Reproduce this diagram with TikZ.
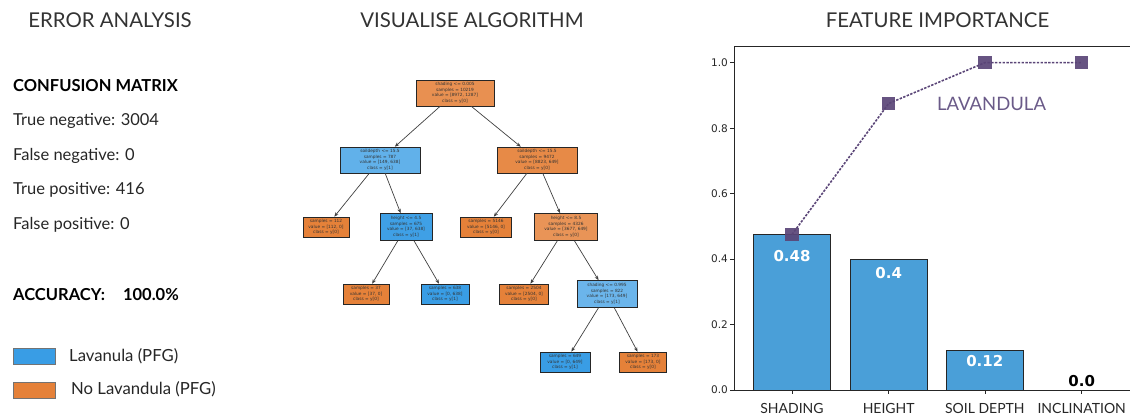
\documentclass[tikz,border=0pt]{standalone}
\usepackage{fontspec}
\setmainfont{Lato}
\newfontfamily\plotfont{DejaVu Sans}
\usetikzlibrary{arrows.meta}

\definecolor{leafblue}{HTML}{399DE5}
\definecolor{leaforange}{HTML}{E58139}
\definecolor{barblue}{HTML}{4A9FD8}
\definecolor{markpurple}{HTML}{5A4577}
\definecolor{labpurple}{HTML}{6A5A88}
\definecolor{titlegray}{HTML}{333333}

\tikzset{
  title/.style={font=\fontsize{20.4}{24}\selectfont, text=titlegray},
  bodytext/.style={font=\fontsize{16.5}{20}\selectfont, text=black!85, anchor=west, inner sep=0pt},
  boldtext/.style={font=\bfseries\fontsize{16.5}{20}\selectfont, text=black, anchor=west, inner sep=0pt},
  legtext/.style={font=\fontsize{16.7}{20}\selectfont, text=black!85, anchor=west, inner sep=0pt},
  treenode/.style={draw=black!85, line width=0.5pt, align=center, inner sep=1pt,
    font=\plotfont\fontsize{4.3}{5.6}\selectfont, text=black!80},
  treeedge/.style={-{Stealth[length=4.5pt,width=3.5pt]}, draw=black!75, line width=0.7pt},
  bar/.style={fill=barblue, draw=black!85, line width=0.6pt},
  barlabel/.style={font=\plotfont\bfseries\fontsize{15}{17}\selectfont, text=white},
  ticklabel/.style={font=\plotfont\fontsize{10.5}{12}\selectfont, text=black!85, anchor=east, inner sep=0pt},
  catlabel/.style={font=\fontsize{14}{16}\selectfont, text=black!85, anchor=base, inner sep=0pt},
  marksq/.style={fill=markpurple, draw=none, minimum size=13.5pt, inner sep=0pt, opacity=0.92},
  legbox/.style={draw=black!55, line width=0.6pt},
}

\begin{document}
\begin{tikzpicture}[x=1pt,y=-1pt]
\useasboundingbox (0,0) rectangle (1130,414);

% ---------- Error analysis panel ----------
\node[title] (t1) at (110,20.5) {ERROR ANALYSIS};
\node[boldtext] (cm) at (13,86) {CONFUSION MATRIX};
\node[bodytext] (tn) at (13,121) {True negative: 3004};
\node[bodytext] (fn) at (13,156) {False negative: 0};
\node[bodytext] (tp) at (13,190) {True positive: 416};
\node[bodytext] (fp) at (13,225) {False positive: 0};
\node[boldtext] (acc) at (13,295) {ACCURACY:\hspace{18pt}100.0\%};

\draw[legbox, fill=leafblue] (13,348) rectangle (55,364);
\node[legtext] (lg1) at (69,356) {Lavanula (PFG)};
\draw[legbox, fill=leaforange] (13,382) rectangle (55,398);
\node[legtext] (lg2) at (71,389) {No Lavandula (PFG)};

% ---------- Decision tree panel ----------
\node[title] (t2) at (472,20.5) {VISUALISE ALGORITHM};

\node[treenode, fill=leaforange!88!white, minimum width=78pt, minimum height=26pt] (root) at (455,93)
  {shading <= 0.005\\samples = 10219\\value = [8972, 1287]\\class = y[0]};
\node[treenode, fill=leafblue!80!white, minimum width=80pt, minimum height=26pt] (lc) at (380,160)
  {soildepth <= 15.5\\samples = 787\\value = [149, 638]\\class = y[1]};
\node[treenode, fill=leaforange!93!white, minimum width=80pt, minimum height=26pt] (rc) at (537,160)
  {soildepth <= 15.5\\samples = 9472\\value = [8823, 649]\\class = y[0]};

\node[treenode, fill=leaforange, minimum width=46pt, minimum height=20pt] (ll) at (326,227)
  {samples = 112\\value = [112, 0]\\class = y[0]};
\node[treenode, fill=leafblue!97!white, minimum width=52pt, minimum height=27pt] (lr) at (406,227)
  {height <= 4.5\\samples = 675\\value = [37, 638]\\class = y[1]};
\node[treenode, fill=leaforange, minimum width=51pt, minimum height=20pt] (rl) at (486,227)
  {samples = 5146\\value = [5146, 0]\\class = y[0]};
\node[treenode, fill=leaforange!85!white, minimum width=63pt, minimum height=27pt] (rr) at (566,227)
  {height <= 8.5\\samples = 4326\\value = [3677, 649]\\class = y[0]};

\node[treenode, fill=leaforange, minimum width=46pt, minimum height=20pt] (lrl) at (366,294)
  {samples = 37\\value = [37, 0]\\class = y[0]};
\node[treenode, fill=leafblue, minimum width=48pt, minimum height=20pt] (lrr) at (445,294)
  {samples = 638\\value = [0, 638]\\class = y[1]};
\node[treenode, fill=leaforange, minimum width=49pt, minimum height=20pt] (rrl) at (524,294)
  {samples = 2504\\value = [2504, 0]\\class = y[0]};
\node[treenode, fill=leafblue!75!white, minimum width=60pt, minimum height=27pt] (rrr) at (607,294)
  {shading <= 0.995\\samples = 822\\value = [173, 649]\\class = y[1]};

\node[treenode, fill=leafblue, minimum width=50pt, minimum height=20pt] (rrrl) at (565,362)
  {samples = 649\\value = [0, 649]\\class = y[1]};
\node[treenode, fill=leaforange, minimum width=47pt, minimum height=20pt] (rrrr) at (643,362)
  {samples = 173\\value = [173, 0]\\class = y[0]};

\draw[treeedge] (root) -- (lc);
\draw[treeedge] (root) -- (rc);
\draw[treeedge] (lc) -- (ll);
\draw[treeedge] (lc) -- (lr);
\draw[treeedge] (rc) -- (rl);
\draw[treeedge] (rc) -- (rr);
\draw[treeedge] (lr) -- (lrl);
\draw[treeedge] (lr) -- (lrr);
\draw[treeedge] (rr) -- (rrl);
\draw[treeedge] (rr) -- (rrr);
\draw[treeedge] (rrr) -- (rrrl);
\draw[treeedge] (rrr) -- (rrrr);

% ---------- Feature importance panel ----------
\node[title] (t3) at (937.5,20.5) {FEATURE IMPORTANCE};

% axes frame
\draw[black!85, line width=0.6pt] (1131,46) -- (734,46) -- (734,390) -- (1131,390);
\foreach \v/\y in {0.0/390, 0.2/324.5, 0.4/259.1, 0.6/193.6, 0.8/128.2, 1.0/62.7} {
  \draw[black!85, line width=0.6pt] (730,\y) -- (734,\y);
  \node[ticklabel] at (728,\y) {\v};
}

% bars
\draw[bar] (753.3,390) rectangle (830.7,234.5);
\draw[bar] (850,390) rectangle (927.3,259.1);
\draw[bar] (946.3,390) rectangle (1023.3,350.7);

\node[barlabel] (b1) at (792,256.5) {0.48};
\node[barlabel] (b2) at (888.7,273) {0.4};
\node[barlabel] (b3) at (984.8,361) {0.12};
\node[font=\plotfont\bfseries\fontsize{15}{17}\selectfont, text=black] (b4) at (1081.7,381.5) {0.0};

% category ticks and labels
\foreach \x/\lab in {792/SHADING, 888.7/HEIGHT, 984.8/SOIL DEPTH, 1081.7/INCLINATION} {
  \draw[black!85, line width=0.6pt] (\x,390) -- (\x,394);
  \node[catlabel] at (\x,413.3) {\lab};
}

% cumulative importance line
\coordinate (p1) at (792,234.5);
\coordinate (p2) at (888.7,103.5);
\coordinate (p3) at (984.8,62.7);
\coordinate (p4) at (1081.7,62.7);
\draw[markpurple, line width=1.6pt, dash pattern=on 2.4pt off 1.4pt] (p1) -- (p2) -- (p3) -- (p4);
\foreach \p in {1,2,3,4} { \node[marksq] (m\p) at (p\p) {}; }

\node[font=\fontsize{18.5}{21}\selectfont, text=labpurple] (lav) at (991.5,104) {LAVANDULA};
\end{tikzpicture}
\end{document}
